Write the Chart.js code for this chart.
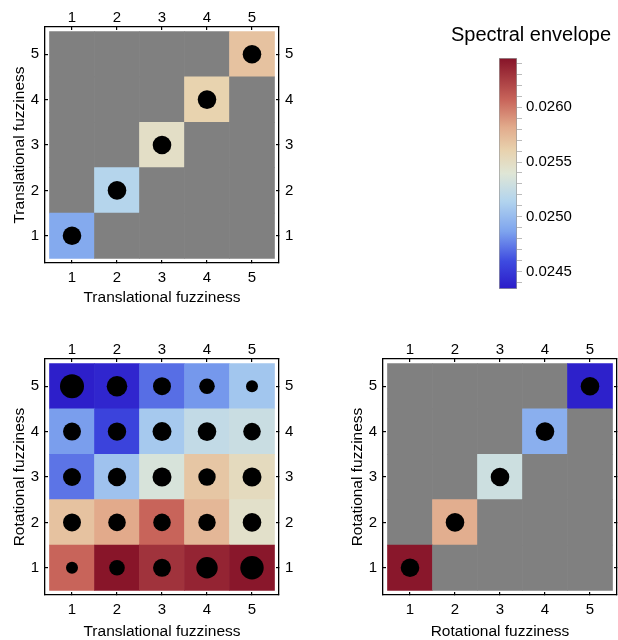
<!DOCTYPE html>
<html>
<head>
<meta charset="utf-8">
<title>Spectral envelope vs fuzziness</title>
<script src="https://cdn.jsdelivr.net/npm/chart.js@4.4.1/dist/chart.umd.min.js"></script>
<style>
  html, body { margin: 0; padding: 0; background: #fff; overflow: hidden; width: 618px; height: 640px; }
  canvas { position: absolute; }
</style>
</head>
<body>
<canvas id="transChart" width="300" height="310" style="left:0;top:0"></canvas>
<canvas id="barScale" width="174" height="290" style="left:444px;top:15px"></canvas>
<canvas id="mixChart" width="300" height="308" style="left:0;top:332px"></canvas>
<canvas id="rotChart" width="300" height="308" style="left:338px;top:332px"></canvas>
<script>
// fuzziness levels (both axes)
const fuzzLevels = [1, 2, 3, 4, 5];

// translational x translational: only the diagonal has values
const transDiag = [0.02490, 0.02516, 0.02548, 0.02560, 0.02569];
// rotational x rotational: only the diagonal has values
const rotDiag = [0.02643, 0.02580, 0.02529, 0.02493, 0.02437];

// translational (columns 1..5) x rotational (rows 1..5)
const rot1 = [0.02607, 0.02644, 0.02630, 0.02637, 0.02643];
const rot2 = [0.02569, 0.02582, 0.02607, 0.02575, 0.02546];
const rot3 = [0.02472, 0.02504, 0.02535, 0.02567, 0.02552];
const rot4 = [0.02485, 0.02455, 0.02508, 0.02523, 0.02527];
const rot5 = [0.02436, 0.02440, 0.02470, 0.02483, 0.02506];

// dot size (radius) per cell in the mixed panel
const dot1 = [6.0, 7.8, 9.0, 10.7, 11.7];
const dot2 = [9.0, 8.8, 8.8, 8.7, 9.3];
const dot3 = [9.0, 9.2, 9.5, 8.7, 9.5];
const dot4 = [9.0, 9.2, 9.5, 9.3, 8.8];
const dot5 = [12.0, 10.3, 9.0, 7.8, 6.0];
const diagDot = 9.3;

// colour bar
const scaleMin = 0.02434;
const scaleMax = 0.02645;
const colorbarTicks = [0.0245, 0.0250, 0.0255, 0.0260];

const missingColor = '#808080';
const cmapStops = [
  [0.00, [43, 27, 200]],
  [0.12, [62, 75, 224]],
  [0.25, [126, 164, 238]],
  [0.38, [178, 212, 238]],
  [0.50, [223, 230, 214]],
  [0.60, [232, 210, 174]],
  [0.70, [226, 171, 140]],
  [0.82, [200, 100, 90]],
  [1.00, [134, 19, 40]]
];

Chart.defaults.font.family = '"Liberation Sans", Arial, Helvetica, sans-serif';
Chart.defaults.color = '#000';

const rgb = c => `rgb(${c.map(Math.round).join(',')})`;

function colorFor(v) {
  if (v === null) return missingColor;
  const t = Math.max(0, Math.min(1, (v - scaleMin) / (scaleMax - scaleMin)));
  for (let i = 1; i < cmapStops.length; i++) {
    const [t0, c0] = cmapStops[i - 1];
    const [t1, c1] = cmapStops[i];
    if (t <= t1) {
      const f = (t - t0) / (t1 - t0);
      return rgb(c0.map((c, k) => c + (c1[k] - c) * f));
    }
  }
  return rgb(cmapStops[cmapStops.length - 1][1]);
}

// frame axis: ticks point inwards (negative tick length), labels outside
function fuzzAxis(position, title, size, titlePad) {
  const horizontal = position === 'top' || position === 'bottom';
  return {
    type: 'linear',
    position,
    min: 0.4,
    max: 5.6,
    offset: false,
    afterBuildTicks: s => { s.ticks = fuzzLevels.map(v => ({ value: v })); },
    afterFit: s => { if (horizontal) s.height = size; else s.width = size; },
    grid: { display: true, drawOnChartArea: false, drawTicks: true, tickLength: -3, color: '#000', lineWidth: 1.2, offset: false },
    border: { display: true, color: '#000', width: 1.3 },
    ticks: { font: { size: 15 }, color: '#000', padding: position === 'top' ? 3 : 9, maxRotation: 0 },
    title: title
      ? { display: true, text: title, font: { size: 15.5 }, color: '#000', padding: position === 'left' ? { top: 10 } : { bottom: titlePad } }
      : { display: false }
  };
}

function heatmap(id, grid, dots, xTitle, yTitle, bottomSize, titlePad) {
  // grid[r][c]: row r -> y level, column c -> x level
  const cells = grid.map((row, r) => ({
    type: 'bar',
    grouped: false,
    order: 2,
    data: row.map((v, c) => ({ x: fuzzLevels[c], y: [fuzzLevels[r] - 0.5, fuzzLevels[r] + 0.5] })),
    backgroundColor: row.map(colorFor),
    borderWidth: 0,
    barPercentage: 1,
    categoryPercentage: 1
  }));
  const points = [];
  dots.forEach((row, r) => row.forEach((rad, c) => {
    if (rad !== null) points.push({ x: fuzzLevels[c], y: fuzzLevels[r], r: rad });
  }));
  new Chart(document.getElementById(id), {
    type: 'bar',
    data: {
      datasets: [...cells, {
        type: 'bubble',
        order: 1,
        data: points,
        backgroundColor: '#000',
        borderWidth: 0,
        hoverRadius: 0
      }]
    },
    options: {
      responsive: false,
      animation: false,
      events: [],
      layout: { padding: 0 },
      plugins: { legend: { display: false }, tooltip: { enabled: false } },
      scales: {
        x: fuzzAxis('bottom', xTitle, bottomSize, titlePad),
        x2: fuzzAxis('top', null, 27),
        y: fuzzAxis('left', yTitle, 45),
        y2: fuzzAxis('right', null, 21)
      }
    }
  });
}

function diagGrid(diag) {
  return diag.map((v, r) => diag.map((_, c) => (r === c ? v : null)));
}
function diagDots(diag) {
  return diag.map((_, r) => diag.map((__, c) => (r === c ? diagDot : null)));
}

heatmap('transChart', diagGrid(transDiag), diagDots(transDiag),
  'Translational fuzziness', 'Translational fuzziness', 47, 3);
heatmap('mixChart', [rot1, rot2, rot3, rot4, rot5], [dot1, dot2, dot3, dot4, dot5],
  'Translational fuzziness', 'Rotational fuzziness', 45, -1);
heatmap('rotChart', diagGrid(rotDiag), diagDots(rotDiag),
  'Rotational fuzziness', 'Rotational fuzziness', 45, -1);

// colour bar
new Chart(document.getElementById('barScale'), {
  type: 'bar',
  data: {
    labels: [''],
    datasets: [{
      xAxisID: 'x',
      yAxisID: 'y',
      data: [[scaleMin, scaleMax]],
      backgroundColor: ctx => {
        const chart = ctx.chart;
        if (!chart.chartArea) return null;
        const y = chart.scales.y;
        const g = chart.ctx.createLinearGradient(0, y.getPixelForValue(scaleMin), 0, y.getPixelForValue(scaleMax));
        cmapStops.forEach(([t, c]) => g.addColorStop(t, rgb(c)));
        return g;
      },
      borderColor: '#9a9a9a',
      borderWidth: 1,
      borderSkipped: false,
      barPercentage: 1,
      categoryPercentage: 1
    }]
  },
  options: {
    responsive: false,
    animation: false,
    events: [],
    layout: { padding: { bottom: 16 } },
    plugins: {
      legend: { display: false },
      tooltip: { enabled: false },
      title: { display: true, text: 'Spectral envelope', font: { size: 20, weight: 'normal' }, color: '#000', padding: { top: 8, bottom: 11 } }
    },
    scales: {
      x: { display: false },
      yl: {
        type: 'linear', position: 'left', display: true,
        afterFit: s => { s.width = 55; },
        ticks: { display: false }, grid: { display: false }, border: { display: false }
      },
      y: {
        type: 'linear', position: 'right', min: scaleMin, max: scaleMax,
        afterBuildTicks: s => {
          const t = [];
          for (let k = 244; k <= 264; k++) t.push({ value: k / 10000 });
          s.ticks = t;
        },
        afterFit: s => { s.width = 101; },
        ticks: {
          autoSkip: false,
          padding: 4,
          font: { size: 15 },
          color: '#000',
          callback: v => (colorbarTicks.some(m => Math.abs(m - v) < 1e-9) ? v.toFixed(4) : '')
        },
        grid: { drawOnChartArea: false, drawTicks: true, tickLength: 5, color: '#bbb' },
        border: { display: false }
      }
    }
  }
});
</script>
</body>
</html>
